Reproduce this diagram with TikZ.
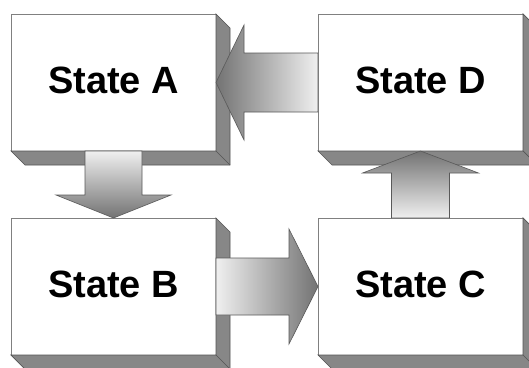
\documentclass[tikz,border=0pt]{standalone}
\usepackage{fontspec}
\setmainfont{Liberation Sans}
\usetikzlibrary{calc}
\definecolor{sideface}{gray}{0.53}
\definecolor{sideedge}{gray}{0.33}
\definecolor{frontedge}{gray}{0.5}
\definecolor{arrlight}{gray}{0.94}
\definecolor{arrdark}{gray}{0.45}
\definecolor{arredge}{gray}{0.35}
\tikzset{
  statebox/.style={draw=frontedge, line width=0.8pt, fill=white, minimum width=205pt, minimum height=137pt,
    inner sep=0pt, outer sep=0pt, text height=28pt, text depth=7pt, font=\fontsize{38}{40}\selectfont\bfseries},
  extrude/.style={fill=sideface, draw=sideedge, line width=0.7pt, line join=miter},
  bigarrow/.style={draw=arredge, line width=0.6pt, line join=miter}
}
\begin{document}
\begin{tikzpicture}[x=1pt,y=-1pt]
\useasboundingbox (0,0) rectangle (529,367);
% state boxes (front faces)
\node[statebox] (A) at (113.5,82.5) {State A};
\node[statebox] (D) at (420.5,82.5) {State D};
\node[statebox] (B) at (113.5,286.5) {State B};
\node[statebox] (C) at (420.5,286.5) {State C};
% extrusions
\foreach \n in {A,B,C,D}{
  \draw[extrude] (\n.north east) -- ([xshift=14pt,yshift=-14pt]\n.north east)
     -- ([xshift=14pt,yshift=-14pt]\n.south east) -- ([xshift=14pt,yshift=-14pt]\n.south west)
     -- (\n.south west) -- (\n.south east) -- cycle;
  \draw[sideedge, line width=0.7pt] (\n.south east) -- ([xshift=14pt,yshift=-14pt]\n.south east);
}
% arrow D -> A (left)
\draw[bigarrow, left color=arrdark, right color=arrlight]
  ([yshift=29.5pt]D.west) -- ([xshift=28pt,yshift=29.5pt]A.east) -- ([xshift=28pt,yshift=57.5pt]A.east)
  -- (A.east) -- ([xshift=28pt,yshift=-57.5pt]A.east) -- ([xshift=28pt,yshift=-29.5pt]A.east)
  -- ([yshift=-29.5pt]D.west) -- cycle;
% arrow A -> B (down)
\draw[bigarrow, top color=arrlight, bottom color=arrdark]
  ([xshift=-28.5pt]A.south) -- ([xshift=-28.5pt,yshift=23pt]B.north) -- ([xshift=-57.5pt,yshift=23pt]B.north)
  -- (B.north) -- ([xshift=57.5pt,yshift=23pt]B.north) -- ([xshift=28.5pt,yshift=23pt]B.north)
  -- ([xshift=28.5pt]A.south) -- cycle;
% arrow B -> C (right)
\draw[bigarrow, left color=arrlight, right color=arrdark]
  ([yshift=28.5pt]B.east) -- ([xshift=-29pt,yshift=28.5pt]C.west) -- ([xshift=-29pt,yshift=57.5pt]C.west)
  -- (C.west) -- ([xshift=-29pt,yshift=-57.5pt]C.west) -- ([xshift=-29pt,yshift=-28.5pt]C.west)
  -- ([yshift=-28.5pt]B.east) -- cycle;
% arrow C -> D (up)
\draw[bigarrow, top color=arrdark, bottom color=arrlight]
  ([xshift=-29pt]C.north) -- ([xshift=-29pt,yshift=-22pt]D.south) -- ([xshift=-58pt,yshift=-22pt]D.south)
  -- (D.south) -- ([xshift=58pt,yshift=-22pt]D.south) -- ([xshift=29pt,yshift=-22pt]D.south)
  -- ([xshift=29pt]C.north) -- cycle;
\end{tikzpicture}
\end{document}
